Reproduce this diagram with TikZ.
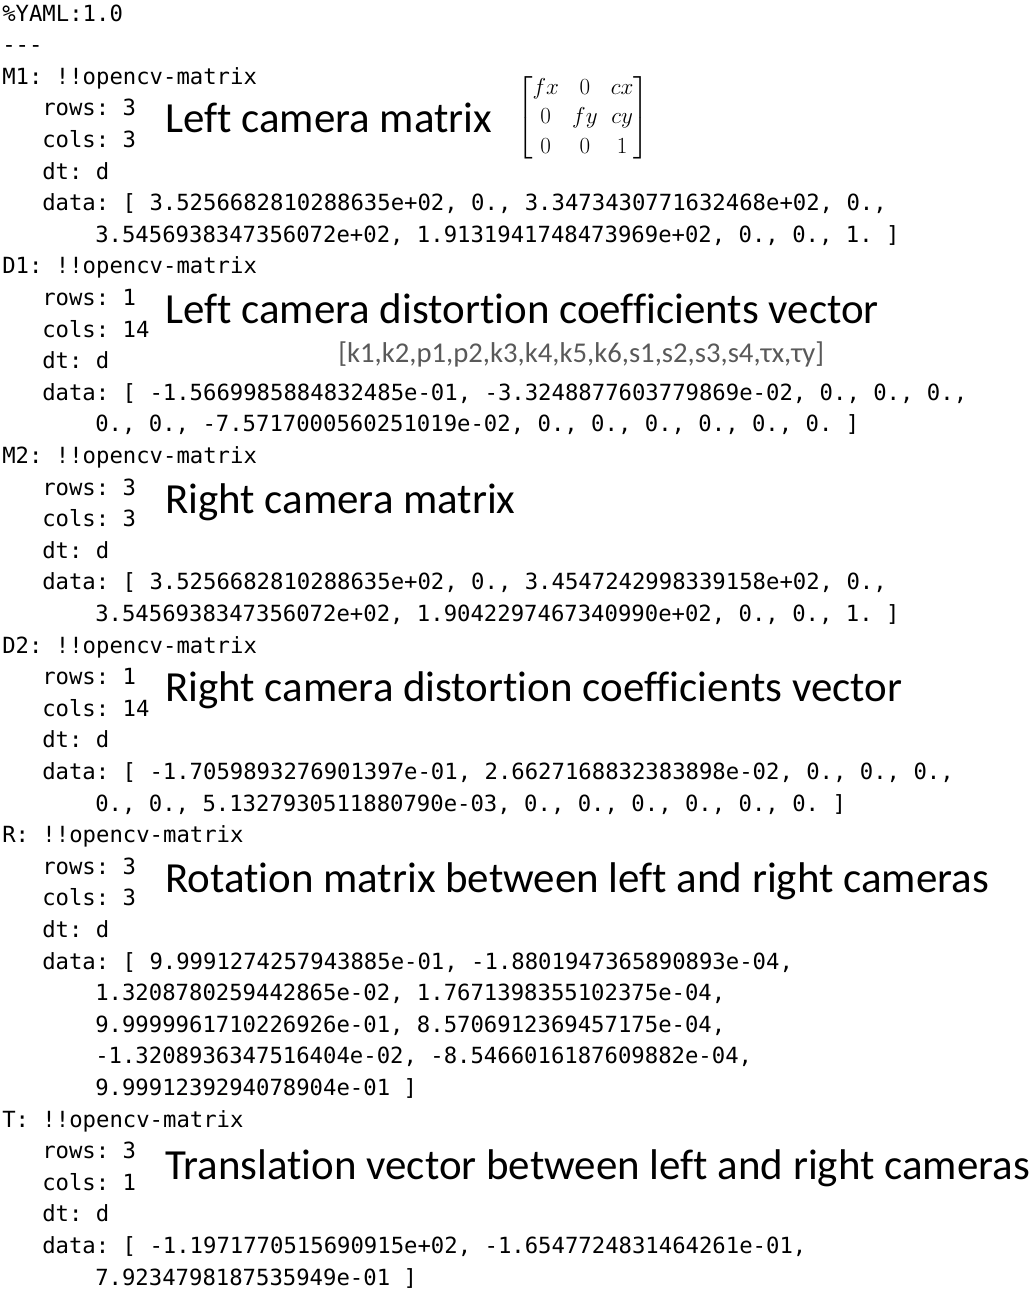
\documentclass[tikz,border=0pt]{standalone}
\usepackage{amsmath}
\usepackage{fontspec}
\setmonofont{DejaVu Sans Mono}
\newfontfamily\labelfont[Ligatures=NoCommon]{Carlito}
\usepackage{tikz}
\usetikzlibrary{positioning}

\tikzset{
  code/.style={anchor=base west, inner sep=0pt, font=\ttfamily\fontsize{16.7}{18}\selectfont},
  caption/.style={anchor=base west, inner sep=0pt, font=\labelfont\fontsize{32.2}{36}\selectfont},
  coeffs/.style={anchor=base west, inner sep=0pt, text=black!65, font=\labelfont\fontsize{21.5}{24}\selectfont}
}

\begin{document}
\begin{tikzpicture}[x=0.75pt, y=-0.75pt]

\useasboundingbox (0,0) rectangle (1034,1290);

% yaml file, one line per entry: line number / left edge / text
\foreach \i/\x/\t in {
  0/2/{\%YAML:1.0}, 1/2/{-{}-{}-},
  2/2/{M1: !!opencv-matrix}, 3/42/{rows: 3}, 4/42/{cols: 3}, 5/42/{dt: d},
  6/42/{data: [ 3.5256682810288635e+02, 0., 3.3473430771632468e+02, 0.,},
  7/95/{3.5456938347356072e+02, 1.9131941748473969e+02, 0., 0., 1. ]},
  8/2/{D1: !!opencv-matrix}, 9/42/{rows: 1}, 10/42/{cols: 14}, 11/42/{dt: d},
  12/42/{data: [ -1.5669985884832485e-01, -3.3248877603779869e-02, 0., 0., 0.,},
  13/95/{0., 0., -7.5717000560251019e-02, 0., 0., 0., 0., 0., 0. ]},
  14/2/{M2: !!opencv-matrix}, 15/42/{rows: 3}, 16/42/{cols: 3}, 17/42/{dt: d},
  18/42/{data: [ 3.5256682810288635e+02, 0., 3.4547242998339158e+02, 0.,},
  19/95/{3.5456938347356072e+02, 1.9042297467340990e+02, 0., 0., 1. ]},
  20/2/{D2: !!opencv-matrix}, 21/42/{rows: 1}, 22/42/{cols: 14}, 23/42/{dt: d},
  24/42/{data: [ -1.7059893276901397e-01, 2.6627168832383898e-02, 0., 0., 0.,},
  25/95/{0., 0., 5.1327930511880790e-03, 0., 0., 0., 0., 0., 0. ]},
  26/2/{R: !!opencv-matrix}, 27/42/{rows: 3}, 28/42/{cols: 3}, 29/42/{dt: d},
  30/42/{data: [ 9.9991274257943885e-01, -1.8801947365890893e-04,},
  31/95/{1.3208780259442865e-02, 1.7671398355102375e-04,},
  32/95/{9.9999961710226926e-01, 8.5706912369457175e-04,},
  33/95/{-1.3208936347516404e-02, -8.5466016187609882e-04,},
  34/95/{9.9991239294078904e-01 ]},
  35/2/{T: !!opencv-matrix}, 36/42/{rows: 3}, 37/42/{cols: 1}, 38/42/{dt: d},
  39/42/{data: [ -1.1971770515690915e+02, -1.6547724831464261e-01,},
  40/95/{7.9234798187535949e-01 ]}}
  \node[code] (line\i) at (\x, {21+31.6*\i}) {\t};

% captions
\node[caption] (capM1) at (165, 132) {Left camera matrix};
\node[caption] (capD1) at (165, 323) {Left camera distortion coefficients vector};
\node[coeffs] (vecD1) at (338, 362) {[k1,k2,p1,p2,k3,k4,k5,k6,s1,s2,s3,s4,τx,τy]};
\node[caption] (capM2) at (165, 513) {Right camera matrix};
\node[caption] (capD2) at (165, 701) {Right camera distortion coefficients vector};
\node[caption] (capR) at (165, 892) {Rotation matrix between left and right cameras};
\node[caption] (capT) at (165, 1179) {Translation vector between left and right cameras};

\node[inner sep=0pt, font=\fontsize{18}{22}\selectfont] (camK) at (583, 118)
  {$\begin{bmatrix} fx & 0 & cx \\ 0 & fy & cy \\ 0 & 0 & 1 \end{bmatrix}$};

\end{tikzpicture}
\end{document}
